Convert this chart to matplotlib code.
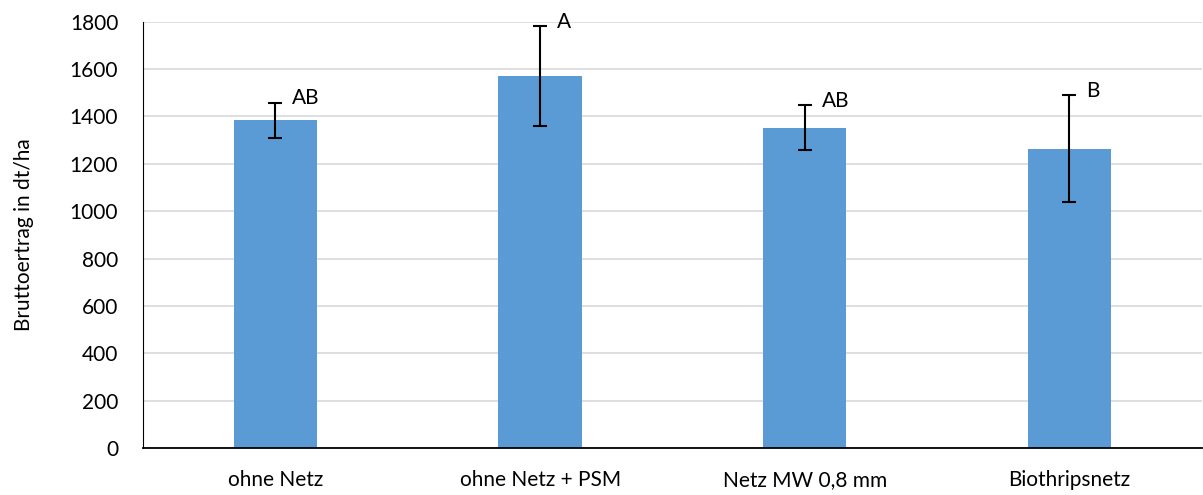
import matplotlib
matplotlib.use("Agg")
import matplotlib.pyplot as plt
import numpy as np

plt.rcParams['font.family'] = ['Lato', 'DejaVu Sans']

# data
categories = ['ohne Netz', 'ohne Netz + PSM', 'Netz MW 0,8 mm', 'Biothripsnetz']
yield_mean = [1384, 1572, 1353, 1264]
yield_err = [75, 211, 96, 226]
letters = ['AB', 'A', 'AB', 'B']

fig = plt.figure(figsize=(12.03, 4.95), dpi=100)
ax = fig.add_axes([0.119, 0.095, 0.880, 0.861])

x = np.arange(len(categories))
ax.bar(x, yield_mean, width=0.315, color='#5B9BD5', zorder=2)
ax.errorbar(x, yield_mean, yerr=yield_err, fmt='none', ecolor='black',
            elinewidth=1.5, capsize=5, capthick=1.5, zorder=3)

for i in range(len(x)):
    ax.annotate(letters[i], (x[i], yield_mean[i] + yield_err[i]),
                xytext=(12, 3), textcoords='offset points',
                ha='left', va='center', fontsize=15)

ax.set_xlim(-0.5, len(categories) - 0.5)
ax.set_ylim(0, 1800)
ax.set_yticks(np.arange(0, 1801, 200))
ax.set_xticks(x)
ax.set_xticklabels(categories)
ax.tick_params(axis='both', length=0, labelsize=15)
ax.tick_params(axis='y', pad=18)
ax.tick_params(axis='x', pad=16)
ax.set_ylabel('Bruttoertrag in dt/ha', fontsize=15, labelpad=26)

ax.grid(axis='y', color='#d9d9d9', linewidth=1.2, zorder=0)
ax.set_axisbelow(True)
for s in ['top', 'right']:
    ax.spines[s].set_visible(False)
ax.spines['left'].set_color('black')
ax.spines['bottom'].set_color('black')
ax.spines['bottom'].set_linewidth(1.3)

fig.savefig('out.png', dpi=100)
